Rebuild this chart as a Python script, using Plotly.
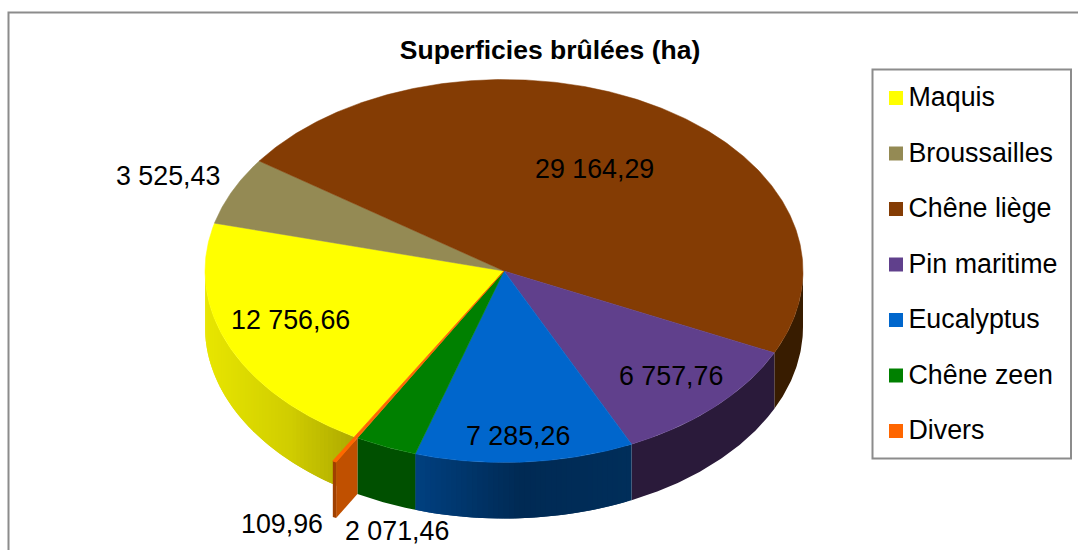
import math
import plotly.graph_objects as go

categories = ["Maquis", "Broussailles", "Chêne liège", "Pin maritime", "Eucalyptus", "Chêne zeen", "Divers"]
values = [12756.66, 3525.43, 29164.29, 6757.76, 7285.26, 2071.46, 109.96]
colors = ["#FFFF00", "#948A54", "#843C04", "#60408C", "#0066CC", "#008000", "#FF6600"]

# layout of the drawing (pixel-based axes)
W, H = 1078, 550
CX, CY, RX, RY, DEPTH = 504, 271, 299, 191.5, 56
START = 210.0
DIVERS_SCALE = 1.145
FONT = 26.8
LABEL_POS = [(290, 320), (168, 175.5), (594, 168.5), (671, 375.5), (518, 435.5), (397, 531), (282, 523.5)]
LEGEND_BOX = (872.5, 69.5, 1071, 458.5)
LEGEND_MARK_X = 896
LEGEND_TEXT_X = 908.5
LEGEND_Y0 = 98
LEGEND_TEXT_DY = 1.5
LEGEND_STEP = 55.5
# wall colour stops: (x pixel, colour)
WALL_STOPS = {
    0: [(205, (232, 230, 0)), (290, (208, 205, 0)), (357, (172, 168, 0))],
    2: [(775, (56, 28, 0)), (803, (56, 28, 0))],
    3: [(632, (42, 26, 58)), (775, (42, 26, 58))],
    4: [(416, (0, 64, 128)), (520, (0, 42, 84)), (632, (0, 46, 90))],
    5: [(357, (0, 80, 0)), (416, (0, 80, 0))],
}


def pt(angle, scale=1.0, dy=0.0):
    a = math.radians(angle)
    return CX + RX * scale * math.sin(a), CY - RY * scale * math.cos(a) + dy


def wall_colour(stops, x):
    if x <= stops[0][0]:
        return stops[0][1]
    for (x0, c0), (x1, c1) in zip(stops, stops[1:]):
        if x <= x1:
            t = (x - x0) / (x1 - x0)
            return tuple(round(a + (b - a) * t) for a, b in zip(c0, c1))
    return stops[-1][1]


def fr(v):
    whole, dec = f"{v:.2f}".split(".")
    if len(whole) > 3:
        whole = whole[:-3] + " " + whole[-3:]
    return whole + "," + dec


def poly(xs, ys, color, line=0.0):
    return go.Scatter(x=xs, y=ys, mode="lines", fill="toself", fillcolor=color,
                      line=dict(color=color, width=line), hoverinfo="skip", showlegend=False)


def wall_band(b0, b1, color):
    n = max(2, int((b1 - b0) / 0.5))
    top = [pt(b0 + (b1 - b0) * k / n) for k in range(n + 1)]
    xs = [p[0] for p in top] + [p[0] for p in reversed(top)]
    ys = [p[1] for p in top] + [p[1] + DEPTH for p in reversed(top)]
    return poly(xs + xs[:1], ys + ys[:1], color)


total = sum(values)
spans = []
ang = START
for v in values:
    d = v / total * 360
    spans.append((ang, ang + d))
    ang += d

fig = go.Figure()

# side walls (only the part facing the viewer, 90..270 degrees)
for i, (a0, a1) in enumerate(spans):
    if i not in WALL_STOPS:
        continue
    lo = a0 % 360
    hi = lo + (a1 - a0)
    lo2, hi2 = max(lo, 90), min(hi, 270)
    if lo2 >= hi2:
        lo -= 360
        hi -= 360
        lo2, hi2 = max(lo, 90), min(hi, 270)
        if lo2 >= hi2:
            continue
    stops = WALL_STOPS[i]
    if len(stops) == 2 and stops[0][1] == stops[1][1]:
        fig.add_trace(wall_band(lo2, hi2, "rgb(%d,%d,%d)" % stops[0][1]))
        continue
    n = max(2, int((hi2 - lo2) / 1.0))
    step = (hi2 - lo2) / n
    for k in range(n):
        b0 = lo2 + step * k
        b1 = min(hi2, b0 + step * 2)  # overlap the next band so no seam shows
        x0 = pt(b0)[0]
        x1 = pt(b0 + step)[0]
        c = wall_colour(stops, (x0 + x1) / 2)
        fig.add_trace(wall_band(b0, b1, f"rgb({c[0]},{c[1]},{c[2]})"))

# top faces
for i, (a0, a1) in enumerate(spans):
    if i == 6:
        continue
    n = max(2, int((a1 - a0) / 0.5))
    pts = [pt(a0 + (a1 - a0) * k / n) for k in range(n + 1)]
    xs = [CX] + [p[0] for p in pts] + [CX]
    ys = [CY] + [p[1] for p in pts] + [CY]
    fig.add_trace(poly(xs, ys, colors[i], line=0.5))

# the thin "Divers" slice sticks out: radial wall, outer wall, then top
a0, a1 = spans[6]
ix, iy = pt(a0)
ox, oy = pt(a0, DIVERS_SCALE)
fig.add_trace(poly([ix, ox, ox, ix, ix], [iy, oy, oy + DEPTH, iy + DEPTH, iy], "#C05000"))
ex, ey = pt(a1, DIVERS_SCALE)
fig.add_trace(poly([ox, ex, ex, ox, ox], [oy, ey, ey + DEPTH, oy + DEPTH, oy], "#A04000"))
fig.add_trace(poly([CX, ox, ex, CX], [CY, oy, ey, CY], colors[6], line=0.8))

# legend: one marker and one name per category
legend_y = [LEGEND_Y0 + LEGEND_STEP * i for i in range(len(categories))]
fig.add_trace(go.Scatter(
    x=[LEGEND_MARK_X] * len(categories), y=legend_y, mode="markers",
    marker=dict(symbol="square", size=14, color=colors, line=dict(width=0)),
    hoverinfo="skip", showlegend=False))
fig.add_trace(go.Scatter(
    x=[LEGEND_TEXT_X] * len(categories), y=[y + LEGEND_TEXT_DY for y in legend_y],
    mode="text", text=categories, textposition="middle right",
    textfont=dict(size=FONT, color="#000000"),
    hoverinfo="skip", showlegend=False))

annotations = [
    dict(x=x, y=y, xref="x", yref="y", text=fr(v), showarrow=False,
         xanchor="center", yanchor="middle", font=dict(size=FONT, color="#000000"))
    for v, (x, y) in zip(values, LABEL_POS)
]

fig.update_layout(
    width=W, height=H, autosize=False,
    margin=dict(l=0, r=0, t=0, b=0),
    paper_bgcolor="#F0F0F0", plot_bgcolor="#FFFFFF",
    font=dict(family="Liberation Sans, Arial, sans-serif", color="#000000", size=FONT),
    title=dict(text="<b>Superficies brûlées (ha)</b>", x=550 / W, y=1 - 50 / H,
               xanchor="center", yanchor="middle", xref="paper", yref="paper",
               font=dict(size=26.5, color="#000000")),
    xaxis=dict(range=[0, W], visible=False, fixedrange=True),
    yaxis=dict(range=[H, 0], visible=False, fixedrange=True),
    showlegend=False,
    annotations=annotations,
    shapes=[
        dict(type="rect", xref="x", yref="y", x0=8.5, y0=12.5, x1=1090, y1=560,
             fillcolor="#FFFFFF", line=dict(color="#8C8C8C", width=2), layer="below"),
        dict(type="rect", xref="x", yref="y", x0=LEGEND_BOX[0], y0=LEGEND_BOX[1],
             x1=LEGEND_BOX[2], y1=LEGEND_BOX[3], fillcolor="#FFFFFF",
             line=dict(color="#8C8C8C", width=2), layer="below"),
    ],
)

fig.write_html("out.html", config={"displayModeBar": False},
               post_script="document.documentElement.style.margin='0';document.body.style.margin='0';document.body.style.overflow='hidden';")
